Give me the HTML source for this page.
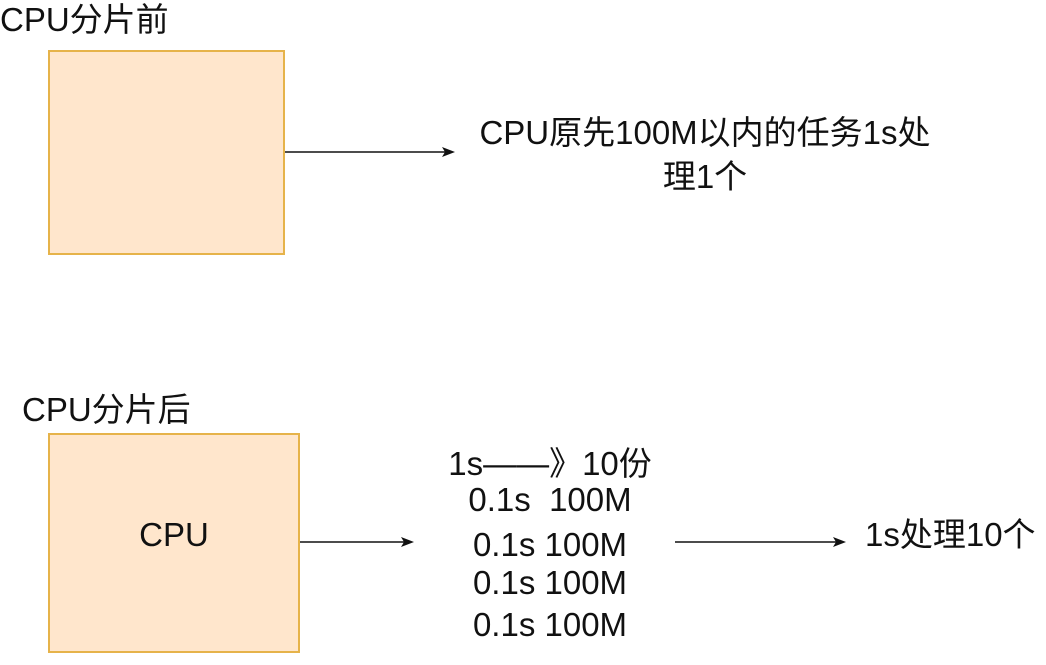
<!DOCTYPE html>
<html><head><meta charset="utf-8"><style>
html,body{margin:0;padding:0;background:#fff;width:1046px;height:665px;overflow:hidden}
.t{position:absolute;font-family:"Liberation Sans","Noto Sans CJK SC",sans-serif;font-size:33px;color:#111;white-space:nowrap;line-height:40px}
.c{text-align:center}
.box{position:absolute;background:#ffe6cc;border:2px solid #e6b34a;box-sizing:border-box}
</style></head><body>
<div class="t" style="left:0;top:0">CPU分片前</div>
<div class="box" style="left:48px;top:50px;width:237px;height:205px"></div>
<div class="t c" style="left:400px;top:113px;width:610px">CPU原先100M以内的任务1s处</div>
<div class="t c" style="left:400px;top:157px;width:610px">理1个</div>

<div class="t" style="left:22px;top:390px">CPU分片后</div>
<div class="box" style="left:48px;top:433px;width:252px;height:220px"></div>
<div class="t c" style="left:48px;top:515px;width:252px">CPU</div>

<div class="t c" style="left:400px;top:444px;width:300px">1s——》10份</div>
<div class="t c" style="left:400px;top:480px;width:300px">0.1s&nbsp; 100M</div>
<div class="t c" style="left:400px;top:525px;width:300px">0.1s 100M</div>
<div class="t c" style="left:400px;top:563px;width:300px">0.1s 100M</div>
<div class="t c" style="left:400px;top:605px;width:300px">0.1s 100M</div>
<div class="t" style="left:865px;top:515px">1s处理10个</div>

<svg width="1046" height="665" style="position:absolute;left:0;top:0">
<g stroke="#111" stroke-width="1.5" fill="#111">
<line x1="285" y1="152" x2="448" y2="152"/>
<polygon points="455,152 442,147 445,152 442,157" stroke="none"/>
<line x1="300" y1="542" x2="407" y2="542"/>
<polygon points="414,542 401,537 404,542 401,547" stroke="none"/>
<line x1="675" y1="542" x2="839" y2="542"/>
<polygon points="846,542 833,537 836,542 833,547" stroke="none"/>
</g></svg>
</body></html>
